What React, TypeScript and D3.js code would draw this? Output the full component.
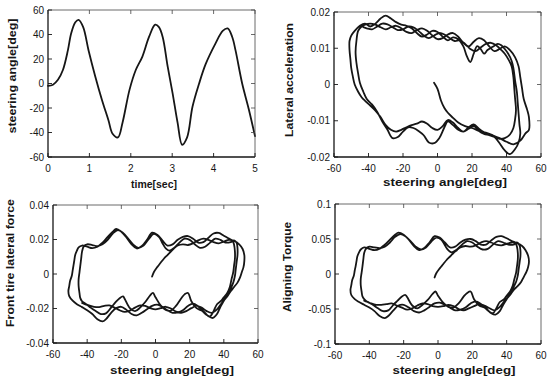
import React from "react";
import * as d3 from "d3";

type Pt = [number, number];

// steering angle history
const timeSec = [0, 0.12, 0.24, 0.36, 0.48, 0.56, 0.66, 0.74, 0.85, 0.98, 1.14, 1.3, 1.46, 1.56, 1.69, 1.8, 1.97, 2.12, 2.28, 2.44, 2.59, 2.68, 2.77, 2.89, 3.01, 3.13, 3.24, 3.36, 3.49, 3.65, 3.81, 4.05, 4.22, 4.34, 4.45, 4.53, 4.69, 4.85, 5.0];
const steerDeg = [-2, -1, 3, 11, 27, 41, 50, 52, 46, 27, 6, -13, -30, -41, -44, -32, -5, 11, 22, 38, 48, 46, 38, 14, -8, -32, -50, -44, -19, 0, 16, 33, 43, 45, 38, 27, 0, -21, -43];

// [steering angle, lateral acceleration]
const latAccLoop: Pt[] = [
  [-2, 0.0005], [0, -0.0012], [2, -0.0044], [4, -0.0065], [6, -0.0078], [9, -0.0092], [12, -0.0105], [16, -0.0115], [20, -0.012], [24, -0.0128], [28, -0.0133], [32, -0.014], [36, -0.0148], [40, -0.0158], [44, -0.0165], [48, -0.0155], [51, -0.0135], [53, -0.0125],
  [53, -0.009], [52, -0.007], [50, -0.004], [49, -0.001], [48, 0.002], [47, 0.005], [45, 0.0075], [42, 0.0095], [39, 0.0105], [36, 0.0098], [33, 0.0092], [30, 0.0105], [27, 0.0122], [24, 0.0128], [21, 0.0118], [18, 0.0105], [15, 0.0115], [12, 0.0132], [9, 0.0142], [6, 0.0138], [3, 0.0128], [0, 0.0125], [-3, 0.0135], [-6, 0.0148], [-9, 0.0155], [-12, 0.015], [-15, 0.0142], [-18, 0.0145], [-21, 0.0155], [-24, 0.0162], [-27, 0.0158], [-30, 0.0152], [-33, 0.0158], [-36, 0.0165], [-39, 0.0168], [-42, 0.0165], [-44, 0.016],
  [-46, 0.0148], [-47, 0.012], [-47.5, 0.009], [-47, 0.006], [-46, 0.003], [-45, 0.0005], [-43, -0.002], [-41, -0.004], [-38, -0.0055], [-35, -0.0075], [-32, -0.0102], [-29, -0.0125], [-26, -0.0148], [-23, -0.0145], [-20, -0.013], [-17, -0.0118], [-14, -0.012], [-11, -0.0128], [-8, -0.014], [-5, -0.016], [-2, -0.0162], [1, -0.0148], [4, -0.0118], [6, -0.0102], [9, -0.0112], [12, -0.0125], [15, -0.013], [18, -0.0122], [21, -0.0115], [24, -0.0128], [27, -0.0136], [30, -0.014], [33, -0.0145], [36, -0.0162], [39, -0.0182], [42, -0.0192], [45, -0.0178], [47, -0.016], [48, -0.0135],
  [47.5, -0.011], [47, -0.008], [46.5, -0.005], [46, -0.002], [45, 0.001], [44, 0.0045], [43, 0.0065], [41, 0.0085], [39, 0.0098], [37, 0.0108], [35, 0.0112], [32, 0.0104], [29, 0.0095], [27, 0.0085], [25, 0.0098], [23, 0.0106], [21, 0.0085], [19, 0.0062], [17, 0.0078], [15, 0.0105], [12, 0.0125], [9, 0.013], [6, 0.0122], [3, 0.0132], [0, 0.0145], [-3, 0.0148], [-6, 0.0138], [-9, 0.0132], [-12, 0.0142], [-15, 0.0155], [-18, 0.0162], [-21, 0.0165], [-24, 0.0172], [-27, 0.0182], [-30, 0.019], [-33, 0.0182], [-36, 0.0168], [-39, 0.016], [-42, 0.0168], [-45, 0.0162], [-48, 0.0148], [-50, 0.0135], [-51, 0.012],
  [-51, 0.0095], [-50.5, 0.007], [-50, 0.0045], [-49, 0.002], [-48, 0.0], [-46, -0.002], [-44, -0.0035], [-42, -0.0045], [-39, -0.0058], [-36, -0.0072], [-33, -0.009], [-30, -0.0112], [-27, -0.0125], [-24, -0.013], [-21, -0.0125], [-18, -0.0118], [-15, -0.0112], [-12, -0.0108], [-9, -0.0102], [-6, -0.0108], [-3, -0.012], [0, -0.0125], [3, -0.0115], [6, -0.0098], [9, -0.0105], [12, -0.012], [15, -0.013], [18, -0.0118], [21, -0.011], [24, -0.0122], [27, -0.0132], [30, -0.014], [33, -0.0145], [36, -0.015], [39, -0.0148], [42, -0.0138], [44, -0.012],
  [45, -0.0095], [45.5, -0.007], [45, -0.004], [44.5, -0.001], [44, 0.002], [43, 0.005], [41, 0.007], [39, 0.0085], [37, 0.0095], [34, 0.0108], [31, 0.0115], [28, 0.0112], [25, 0.0102], [22, 0.0092], [19, 0.0098], [16, 0.0112], [13, 0.0122], [10, 0.012], [7, 0.0128], [4, 0.0138], [1, 0.0142], [-2, 0.0135], [-5, 0.0128], [-8, 0.0135], [-11, 0.0148], [-14, 0.0158], [-17, 0.016], [-20, 0.0152], [-23, 0.015], [-26, 0.0158], [-29, 0.0166], [-32, 0.0168], [-35, 0.016], [-38, 0.0152], [-41, 0.0155], [-43, 0.0158],
];

// [steering angle, front tire lateral force]
const frontForceLoop: Pt[] = [
  [-2, -0.0015], [-1, 0.001], [1, 0.004], [3, 0.0065], [5, 0.009], [7, 0.011], [9, 0.013], [11, 0.015], [13, 0.0165], [16, 0.0172], [19, 0.0168], [22, 0.0178], [25, 0.0195], [28, 0.0205], [31, 0.0198], [34, 0.0185], [37, 0.0178], [40, 0.0188], [43, 0.0198], [46, 0.0192], [49, 0.0172], [51, 0.0145], [52, 0.011],
  [52, 0.0075], [51.5, 0.004], [50.5, 0.001], [49.5, -0.002], [48, -0.005], [46, -0.0075], [44, -0.01], [42, -0.013], [39, -0.0165], [36, -0.0205], [33, -0.0225], [30, -0.0215], [27, -0.0195], [24, -0.0185], [21, -0.0198], [18, -0.0215], [15, -0.0225], [12, -0.0218], [9, -0.02], [6, -0.019], [3, -0.0198], [0, -0.0205], [-3, -0.0198], [-6, -0.0185], [-9, -0.0182], [-12, -0.0195], [-15, -0.0212], [-18, -0.022], [-21, -0.021], [-24, -0.0195], [-27, -0.0182], [-30, -0.0185], [-33, -0.0192], [-36, -0.019], [-39, -0.0182], [-41, -0.0172], [-43, -0.0158], [-44, -0.014],
  [-44.5, -0.011], [-45, -0.007], [-45, -0.003], [-44.5, 0.001], [-44, 0.005], [-43.5, 0.009], [-43, 0.013], [-42, 0.016], [-40, 0.0172], [-37, 0.0168], [-34, 0.0162], [-31, 0.0172], [-28, 0.0198], [-25, 0.0235], [-22, 0.0255], [-19, 0.0238], [-16, 0.0205], [-13, 0.017], [-10, 0.0152], [-7, 0.0165], [-4, 0.0202], [-1, 0.0232], [2, 0.0215], [4, 0.018], [6, 0.0148], [8, 0.0135], [11, 0.0152], [14, 0.0182], [17, 0.0205], [20, 0.0198], [23, 0.0172], [26, 0.0152], [29, 0.0158], [32, 0.0182], [35, 0.0205], [38, 0.0198], [41, 0.0182], [44, 0.0185], [46, 0.0195], [47.5, 0.018],
  [48, 0.015], [48, 0.011], [47.5, 0.007], [47, 0.003], [46.5, -0.001], [45.5, -0.005], [44, -0.0085], [42, -0.012], [40, -0.0155], [38, -0.019], [36, -0.0232], [33.5, -0.0255], [31, -0.0245], [28, -0.0215], [25, -0.0188], [22, -0.0172], [19, -0.0185], [16, -0.021], [13, -0.0222], [10, -0.0225], [7, -0.021], [4, -0.019], [1, -0.0178], [-2, -0.0185], [-5, -0.0205], [-8, -0.0225], [-11, -0.024], [-14, -0.0232], [-17, -0.0208], [-20, -0.019], [-23, -0.0198], [-26, -0.0225], [-29, -0.0262], [-31, -0.0275], [-34, -0.0262], [-37, -0.0232], [-40, -0.021], [-43, -0.0192], [-46, -0.0175], [-48.5, -0.0155], [-50.5, -0.0128],
  [-51, -0.01], [-50.5, -0.007], [-50, -0.004], [-49, -0.001], [-48.5, 0.002], [-48, 0.005], [-47.5, 0.008], [-47, 0.011], [-46, 0.0135], [-45, 0.0155], [-43, 0.0165], [-40, 0.0158], [-37, 0.015], [-34, 0.0158], [-31, 0.0182], [-28, 0.0215], [-25, 0.0245], [-23, 0.0262], [-20, 0.0245], [-17, 0.0212], [-14, 0.0172], [-11, 0.0148], [-8, 0.0162], [-5, 0.0198], [-2, 0.024], [1, 0.0228], [4, 0.0195], [7, 0.0165], [10, 0.0172], [13, 0.0198], [16, 0.0215], [19, 0.022], [22, 0.0205], [25, 0.0182], [28, 0.0185], [31, 0.021], [34, 0.0235], [37, 0.0238], [40, 0.0222], [43, 0.0205], [45, 0.0195],
  [46, 0.017], [46.5, 0.013], [46.5, 0.009], [46, 0.005], [45.5, 0.001], [44.5, -0.003], [43.5, -0.0075], [42, -0.011], [40, -0.0135], [38.5, -0.0155], [36, -0.0175], [34, -0.0215], [32, -0.0245], [30, -0.0238], [27, -0.0212], [24, -0.0198], [21, -0.0158], [19, -0.011], [17, -0.0118], [15, -0.0142], [12, -0.0185], [9, -0.0212], [6, -0.0208], [3, -0.0182], [0, -0.0135], [-1.5, -0.011], [-3, -0.0122], [-6, -0.0162], [-9, -0.0195], [-12, -0.0215], [-15, -0.0198], [-18, -0.0145], [-19, -0.013], [-21, -0.014], [-23.5, -0.0165], [-26, -0.0195], [-29, -0.0228], [-32, -0.0232], [-35, -0.0215], [-38, -0.0195], [-40, -0.018], [-42, -0.0172], [-43, -0.0168],
];

// [steering angle, aligning torque]
const alignTorqueLoop: Pt[] = [
  [-2, -0.005], [-1, 0.001], [1, 0.008], [3, 0.014], [5, 0.02], [7, 0.025], [9, 0.03], [11, 0.034], [13, 0.038], [16, 0.04], [19, 0.039], [22, 0.041], [25, 0.045], [28, 0.047], [31, 0.045], [34, 0.042], [37, 0.041], [40, 0.043], [43, 0.045], [46, 0.044], [49, 0.04], [51, 0.034], [52.5, 0.026],
  [53, 0.018], [52.5, 0.01], [51.5, 0.003], [50, -0.004], [48.5, -0.011], [46.5, -0.017], [44, -0.023], [42, -0.03], [39, -0.038], [36, -0.047], [33, -0.052], [30, -0.049], [27, -0.045], [24, -0.043], [21, -0.046], [18, -0.049], [15, -0.052], [12, -0.05], [9, -0.046], [6, -0.044], [3, -0.046], [0, -0.047], [-3, -0.046], [-6, -0.043], [-9, -0.042], [-12, -0.045], [-15, -0.049], [-18, -0.051], [-21, -0.048], [-24, -0.045], [-27, -0.042], [-30, -0.043], [-33, -0.044], [-36, -0.044], [-39, -0.042], [-41, -0.04], [-43, -0.036], [-44, -0.032],
  [-44.5, -0.025], [-45, -0.016], [-45, -0.007], [-44.5, 0.002], [-44, 0.011], [-43.5, 0.021], [-43, 0.03], [-42, 0.036], [-40, 0.039], [-37, 0.038], [-34, 0.037], [-31, 0.039], [-28, 0.045], [-25, 0.053], [-22, 0.057], [-19, 0.054], [-16, 0.047], [-13, 0.039], [-10, 0.035], [-7, 0.038], [-4, 0.046], [-1, 0.052], [2, 0.049], [4, 0.041], [6, 0.034], [8, 0.031], [11, 0.035], [14, 0.042], [17, 0.047], [20, 0.045], [23, 0.039], [26, 0.035], [29, 0.036], [32, 0.042], [35, 0.047], [38, 0.045], [41, 0.042], [44, 0.042], [46, 0.045], [47.5, 0.041],
  [48, 0.034], [48, 0.025], [47.5, 0.016], [47, 0.007], [46.5, -0.002], [45.5, -0.011], [44, -0.019], [42, -0.028], [40, -0.036], [38, -0.044], [36, -0.053], [33.5, -0.058], [31, -0.056], [28, -0.049], [25, -0.043], [22, -0.039], [19, -0.042], [16, -0.048], [13, -0.051], [10, -0.052], [7, -0.048], [4, -0.044], [1, -0.041], [-2, -0.042], [-5, -0.047], [-8, -0.052], [-11, -0.055], [-14, -0.053], [-17, -0.048], [-20, -0.044], [-23, -0.045], [-26, -0.052], [-29, -0.06], [-31, -0.063], [-34, -0.06], [-37, -0.053], [-40, -0.048], [-43, -0.044], [-46, -0.04], [-48.5, -0.036], [-50.5, -0.03],
  [-51, -0.023], [-50.5, -0.016], [-50, -0.009], [-49, -0.002], [-48.5, 0.005], [-48, 0.011], [-47.5, 0.018], [-47, 0.025], [-46, 0.031], [-45, 0.035], [-43, 0.038], [-40, 0.036], [-37, 0.034], [-34, 0.036], [-31, 0.042], [-28, 0.049], [-25, 0.056], [-23, 0.059], [-20, 0.056], [-17, 0.049], [-14, 0.04], [-11, 0.034], [-8, 0.037], [-5, 0.045], [-2, 0.054], [1, 0.052], [4, 0.045], [7, 0.038], [10, 0.039], [13, 0.045], [16, 0.049], [19, 0.05], [22, 0.047], [25, 0.042], [28, 0.042], [31, 0.048], [34, 0.053], [37, 0.054], [40, 0.051], [43, 0.047], [45, 0.045],
  [46, 0.039], [46.5, 0.03], [46.5, 0.021], [46, 0.011], [45.5, 0.002], [44.5, -0.007], [43.5, -0.017], [42, -0.025], [40, -0.031], [38.5, -0.036], [36, -0.04], [34, -0.049], [32, -0.056], [30, -0.054], [27, -0.048], [24, -0.045], [21, -0.036], [19, -0.025], [17, -0.027], [15, -0.032], [12, -0.042], [9, -0.048], [6, -0.047], [3, -0.041], [0, -0.031], [-1.5, -0.025], [-3, -0.028], [-6, -0.037], [-9, -0.044], [-12, -0.049], [-15, -0.045], [-18, -0.033], [-19, -0.03], [-21, -0.032], [-23.5, -0.038], [-26, -0.044], [-29, -0.052], [-32, -0.053], [-35, -0.049], [-38, -0.044], [-40, -0.041], [-42, -0.039], [-43, -0.038],
];

const timeTicks = [0, 1, 2, 3, 4, 5];
const degTicks = [-60, -40, -20, 0, 20, 40, 60];
const accTicks = [-0.02, -0.01, 0, 0.01, 0.02];
const forceTicks = [-0.04, -0.02, 0, 0.02, 0.04];
const torqueTicks = [-0.1, -0.05, 0, 0.05, 0.1];

const FONT = "'Liberation Sans', Arial, Helvetica, sans-serif";
const INK = "#161616";

type PanelProps = {
  box: [number, number, number, number]; // left, top, right, bottom
  xDomain: [number, number];
  yDomain: [number, number];
  xTicks: number[];
  yTicks: number[];
  points: Pt[];
  xLabel: string;
  xLabelPos: [number, number, number]; // center x, baseline, length
  yLabel: string;
  yLabelPos: [number, number, number]; // baseline x, center y, length
};

function Panel(p: PanelProps) {
  const [l, t, r, b] = p.box;
  const x = d3.scaleLinear().domain(p.xDomain).range([l, r]);
  const y = d3.scaleLinear().domain(p.yDomain).range([b, t]);
  const line = d3
    .line<Pt>()
    .x((d) => x(d[0]))
    .y((d) => y(d[1]))
    .curve(d3.curveCatmullRom.alpha(0.5));
  const tk = 4;
  return (
    <g>
      <path d={line(p.points) || ""} fill="none" stroke={INK} strokeWidth={1.8} strokeLinejoin="round" strokeLinecap="round" />
      {/* frame: left/bottom solid, top/right faint like the scan */}
      <line x1={l} y1={t} x2={r} y2={t} stroke="#444" strokeWidth={0.8} />
      <line x1={r} y1={t} x2={r} y2={b} stroke="#444" strokeWidth={0.8} />
      <line x1={l} y1={t} x2={l} y2={b} stroke={INK} strokeWidth={1.3} />
      <line x1={l} y1={b} x2={r} y2={b} stroke={INK} strokeWidth={1.3} />
      {p.xTicks.map((v) => (
        <g key={"x" + v}>
          <line x1={x(v)} x2={x(v)} y1={b} y2={b - tk} stroke={INK} strokeWidth={0.9} />
          <line x1={x(v)} x2={x(v)} y1={t} y2={t + tk} stroke="#444" strokeWidth={0.8} />
          <text x={x(v)} y={b + 15} textAnchor="middle" fontSize={10} fontFamily={FONT} fill={INK}>
            {String(v)}
          </text>
        </g>
      ))}
      {p.yTicks.map((v) => (
        <g key={"y" + v}>
          <line x1={l} x2={l + tk} y1={y(v)} y2={y(v)} stroke={INK} strokeWidth={0.9} />
          <line x1={r} x2={r - tk} y1={y(v)} y2={y(v)} stroke="#444" strokeWidth={0.8} />
          <text x={l - 4} y={y(v) + 3.5} textAnchor="end" fontSize={10} fontFamily={FONT} fill={INK}>
            {String(v)}
          </text>
        </g>
      ))}
      <text
        x={p.xLabelPos[0]}
        y={p.xLabelPos[1]}
        textAnchor="middle"
        fontSize={11.5}
        fontWeight="bold"
        fontFamily={FONT}
        fill={INK}
        textLength={p.xLabelPos[2]}
        lengthAdjust="spacingAndGlyphs"
      >
        {p.xLabel}
      </text>
      <text
        transform={`translate(${p.yLabelPos[0]},${p.yLabelPos[1]}) rotate(-90)`}
        textAnchor="middle"
        fontSize={11.5}
        fontWeight="bold"
        fontFamily={FONT}
        fill={INK}
        textLength={p.yLabelPos[2]}
        lengthAdjust="spacingAndGlyphs"
      >
        {p.yLabel}
      </text>
    </g>
  );
}

export default function App() {
  const steerSeries: Pt[] = timeSec.map((tt, i) => [tt, steerDeg[i]]);
  return (
    <div style={{ position: "absolute", left: 0, top: 0 }}>
      <svg width={557} height={379} style={{ display: "block", background: "#fff" }}>
        <Panel
          box={[48, 10, 255, 157]}
          xDomain={[0, 5]}
          yDomain={[-60, 60]}
          xTicks={timeTicks}
          yTicks={degTicks}
          points={steerSeries}
          xLabel="time[sec]"
          xLabelPos={[154, 188, 46]}
          yLabel="steering angle[deg]"
          yLabelPos={[16, 76, 115]}
        />
        <Panel
          box={[334, 12, 541, 157]}
          xDomain={[-60, 60]}
          yDomain={[-0.02, 0.02]}
          xTicks={degTicks}
          yTicks={accTicks}
          points={latAccLoop}
          xLabel="steering angle[deg]"
          xLabelPos={[445, 186, 124]}
          yLabel="Lateral acceleration"
          yLabelPos={[293, 80, 114]}
        />
        <Panel
          box={[53, 205, 258, 343]}
          xDomain={[-60, 60]}
          yDomain={[-0.04, 0.04]}
          xTicks={degTicks}
          yTicks={forceTicks}
          points={frontForceLoop}
          xLabel="steering angle[deg]"
          xLabelPos={[172, 374, 124]}
          yLabel="Front tire lateral force"
          yLabelPos={[14, 263, 128]}
        />
        <Panel
          box={[335, 204, 541, 344]}
          xDomain={[-60, 60]}
          yDomain={[-0.1, 0.1]}
          xTicks={degTicks}
          yTicks={torqueTicks}
          points={alignTorqueLoop}
          xLabel="steering angle[deg]"
          xLabelPos={[454, 374, 123]}
          yLabel="Aligning Torque"
          yLabelPos={[291, 267, 90]}
        />
      </svg>
    </div>
  );
}
